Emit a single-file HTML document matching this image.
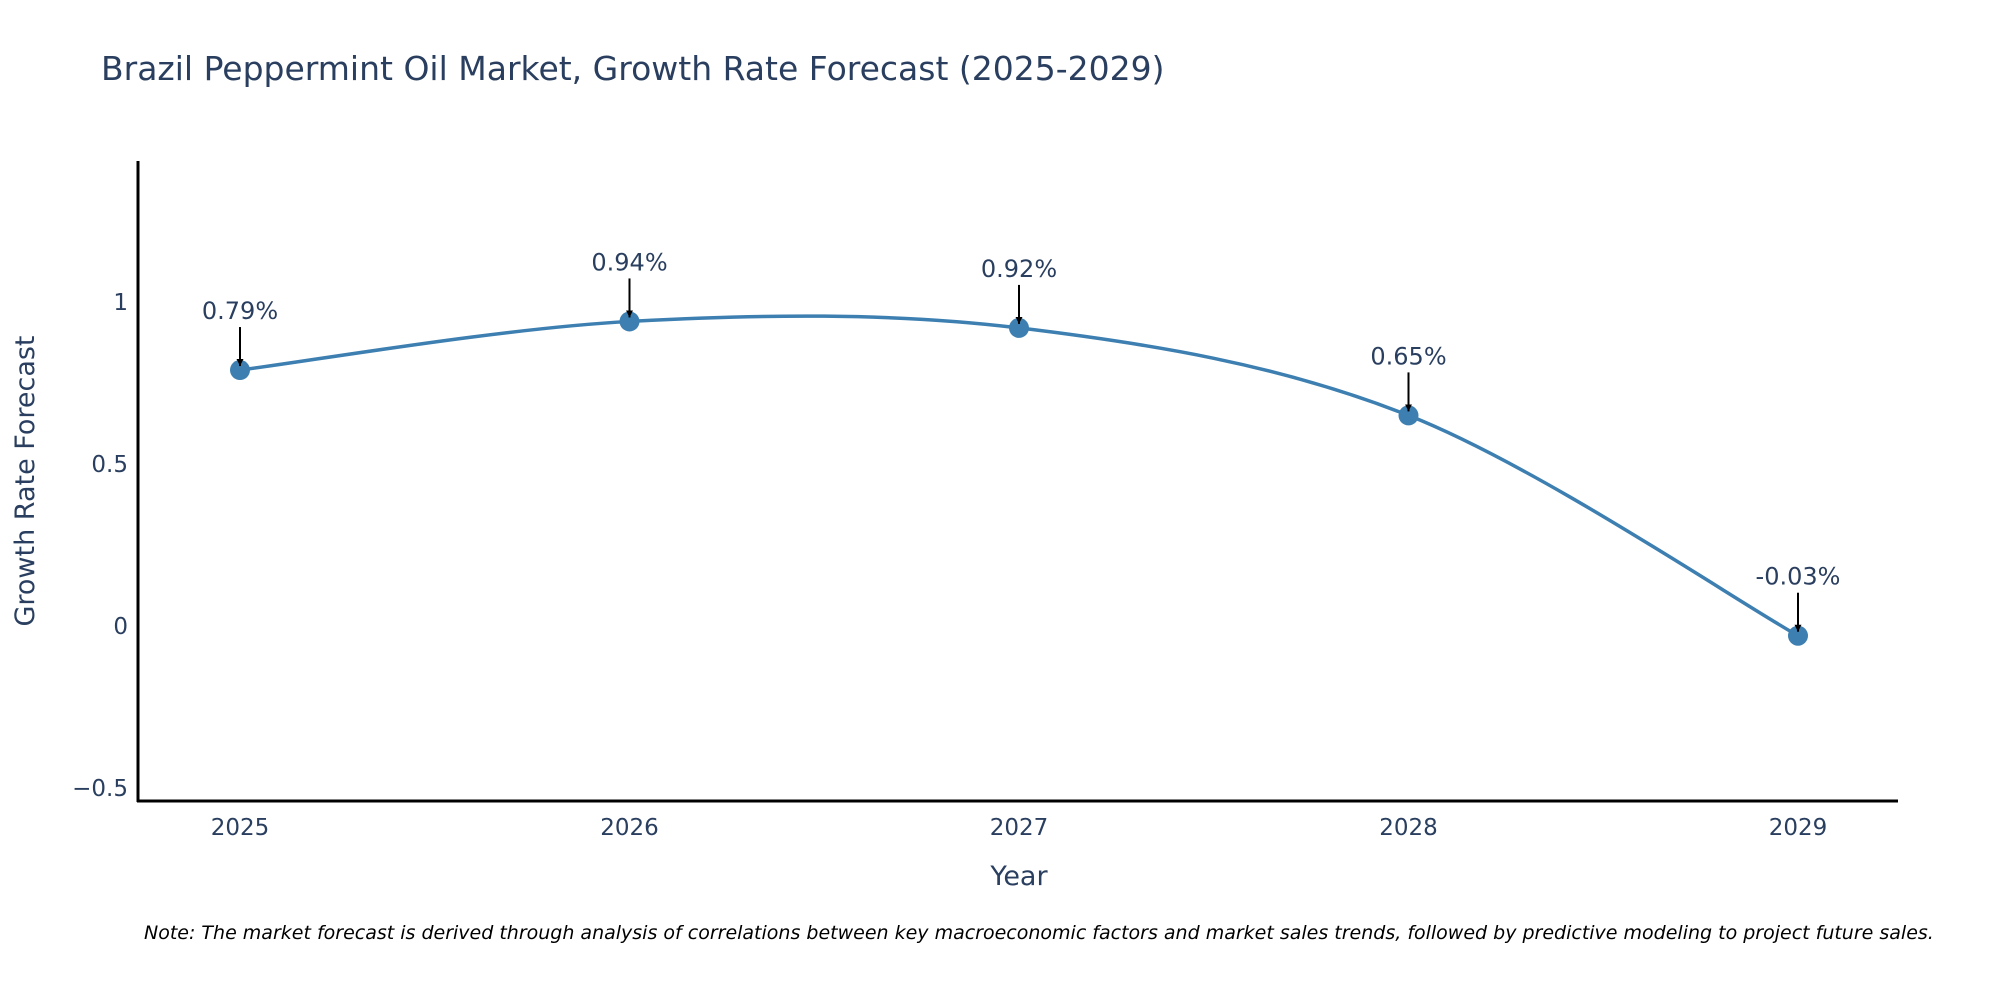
<!DOCTYPE html>
<html><head><meta charset="utf-8">
<style>
html,body{margin:0;padding:0;background:#fff;}
svg{display:block;font-family:"DejaVu Sans","Liberation Sans",sans-serif;}
</style></head>
<body>
<svg id="chart" width="2000" height="1000" viewBox="0 0 2000 1000">
<text x="101" y="80" font-size="33" fill="#2a3f5f">Brazil Peppermint Oil Market, Growth Rate Forecast (2025-2029)</text>
<g id="yticks"></g>
<g id="xticks"></g>
<path id="line" fill="none" stroke="#3d7fb1" stroke-width="3.5"></path>
<g id="points"></g>
<g id="annots"></g>
<line x1="138" y1="161" x2="138" y2="802" stroke="#000" stroke-width="3"/>
<line x1="137" y1="801" x2="1898" y2="801" stroke="#000" stroke-width="3"/>
<text transform="translate(34,481) rotate(-90)" text-anchor="middle" font-size="27" fill="#2a3f5f">Growth Rate Forecast</text>
<text x="1019" y="885" text-anchor="middle" font-size="27" fill="#2a3f5f">Year</text>
<text x="144" y="939" font-size="19" font-style="italic" fill="#000">Note: The market forecast is derived through analysis of correlations between key macroeconomic factors and market sales trends, followed by predictive modeling to project future sales.</text>
<defs><marker id="ah" viewBox="0 0 10 10" refX="10" refY="5" markerWidth="7" markerHeight="7" markerUnits="userSpaceOnUse" orient="auto"><path d="M0,0 L10,5 L0,10 z" fill="#000"/></marker></defs>
</svg>
<script>
const years = ["2025","2026","2027","2028","2029"];
const values = [0.79, 0.94, 0.92, 0.65, -0.03];
const labels = ["0.79%","0.94%","0.92%","0.65%","-0.03%"];
const yTickVals = [-0.5, 0, 0.5, 1];
const yTickLabels = ["\u22120.5","0","0.5","1"];

const NS="http://www.w3.org/2000/svg";
const xScale = i => 240 + i*(1798-240)/(years.length-1);
const yScale = v => 626 - v*324;
function mk(tag, attrs, parent, txt){const e=document.createElementNS(NS,tag);for(const k in attrs)e.setAttribute(k,attrs[k]);if(txt!==undefined)e.textContent=txt;parent.appendChild(e);return e;}

const yt=document.getElementById('yticks');
yTickVals.forEach((v,i)=>{const t=mk('text',{x:128,y:yScale(v)+8,'text-anchor':'end','font-size':23,fill:'#2a3f5f'},yt,yTickLabels[i]);

});
const xt=document.getElementById('xticks');
years.forEach((y,i)=>{const t=mk('text',{x:xScale(i),y:835,'text-anchor':'middle','font-size':23,fill:'#2a3f5f'},xt,y);

});

const pts=values.map((v,i)=>[xScale(i),yScale(v)]);
let d=`M${pts[0][0]},${pts[0][1]}`;
const s=1/6;
for(let i=0;i<pts.length-1;i++){
  const p0=pts[Math.max(0,i-1)],p1=pts[i],p2=pts[i+1],p3=pts[Math.min(pts.length-1,i+2)];
  const c1=[p1[0]+(p2[0]-p0[0])*s,p1[1]+(p2[1]-p0[1])*s];
  const c2=[p2[0]-(p3[0]-p1[0])*s,p2[1]-(p3[1]-p1[1])*s];
  d+=` C${c1[0]},${c1[1]} ${c2[0]},${c2[1]} ${p2[0]},${p2[1]}`;
}
document.getElementById('line').setAttribute('d',d);

const pg=document.getElementById('points'), ag=document.getElementById('annots');
pts.forEach((p,i)=>{
  const c=mk('circle',{cx:p[0],cy:p[1],r:10,fill:'#3d7fb1'},pg);
  
  
  const a=mk('line',{x1:p[0],y1:p[1]-43,x2:p[0],y2:p[1]-4,stroke:'#000','stroke-width':2,'marker-end':'url(#ah)'},ag);
  
  
  const t=mk('text',{x:p[0],y:p[1]-51,'text-anchor':'middle','font-size':24,fill:'#2a3f5f'},ag,labels[i]);
  
  
});
</script>
</body></html>
